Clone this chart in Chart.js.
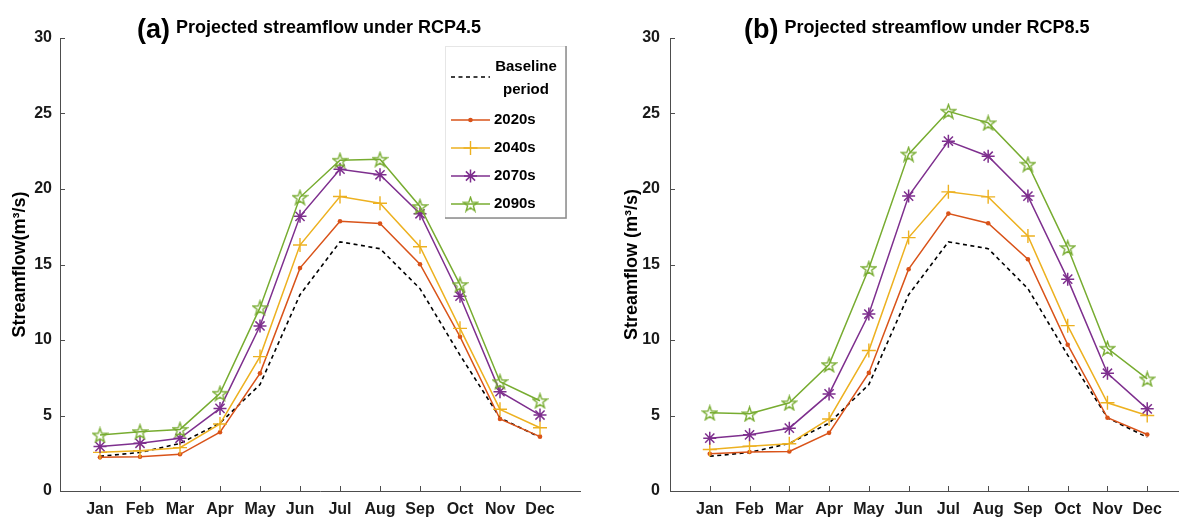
<!DOCTYPE html>
<html>
<head>
<meta charset="utf-8">
<script src="https://cdn.jsdelivr.net/npm/chart.js@4.4.1/dist/chart.umd.min.js"></script>
<style>
  html, body { margin: 0; padding: 0; background: #fff; overflow: hidden; }
  .panel { position: absolute; top: 0; width: 600px; height: 519px; }
  #panelA { left: 0; }
  #panelB { left: 600px; }
</style>
</head>
<body>
<div class="panel" id="panelA"><canvas id="chartA"></canvas></div>
<div class="panel" id="panelB"><canvas id="chartB"></canvas></div>
<script>
// months on the x axis (placed at 1..12)
const months = ["Jan", "Feb", "Mar", "Apr", "May", "Jun", "Jul", "Aug", "Sep", "Oct", "Nov", "Dec"];
const seriesNames = ["Baseline period", "2020s", "2040s", "2070s", "2090s"];

// streamflow, m3/s
const baseline    = [2.3, 2.55, 3.15, 4.5, 7.05, 13.0, 16.5, 16.05, 13.4, 9.0, 4.85, 3.55];
const rcp45_2020s = [2.23, 2.27, 2.43, 3.89, 7.79, 14.76, 17.86, 17.71, 15.02, 10.22, 4.77, 3.6];
const rcp45_2040s = [2.56, 2.67, 2.87, 4.44, 8.9, 16.29, 19.5, 19.06, 16.18, 10.77, 5.41, 4.19];
const rcp45_2070s = [2.94, 3.16, 3.49, 5.47, 10.93, 18.19, 21.31, 20.94, 18.36, 12.9, 6.58, 5.03];
const rcp45_2090s = [3.71, 3.93, 4.08, 6.47, 12.14, 19.45, 21.9, 21.97, 18.84, 13.67, 7.24, 5.98];
const rcp85_2020s = [2.47, 2.58, 2.62, 3.85, 7.82, 14.69, 18.37, 17.73, 15.35, 9.69, 4.85, 3.74];
const rcp85_2040s = [2.75, 2.97, 3.13, 4.77, 9.3, 16.78, 19.81, 19.48, 16.89, 10.95, 5.84, 5.0];
const rcp85_2070s = [3.5, 3.72, 4.16, 6.43, 11.72, 19.53, 23.17, 22.17, 19.53, 14.03, 7.8, 5.44];
const rcp85_2090s = [5.18, 5.11, 5.84, 8.37, 14.74, 22.31, 25.15, 24.38, 21.64, 16.12, 9.45, 7.42];

const FONT = '"Liberation Sans", Arial, sans-serif';
Chart.defaults.font.family = FONT;
Chart.defaults.color = "#1a1a1a";
const AXIS = "#4d4d4d";

// hollow pentagram marker (matlab 'p')
function pentagram(color, size) {
  const c = document.createElement("canvas");
  c.width = size; c.height = size;
  const g = c.getContext("2d");
  const cx = size / 2, cy = size / 2 + 0.8, r = size / 2 - 1, ri = r * 0.40;
  g.beginPath();
  for (let i = 0; i < 10; i++) {
    const a = -Math.PI / 2 + i * Math.PI / 5;
    const rr = i % 2 ? ri : r;
    const px = cx + rr * Math.cos(a), py = cy + rr * Math.sin(a);
    if (i === 0) g.moveTo(px, py); else g.lineTo(px, py);
  }
  g.closePath();
  g.strokeStyle = color;
  g.lineWidth = 1.4;
  g.stroke();
  return c;
}

const styles = [
  { borderColor: "#000000", borderDash: [4, 3.5], borderWidth: 1.6, pointRadius: 0 },
  { borderColor: "#D95319", backgroundColor: "#D95319", pointStyle: "circle", pointRadius: 2.3, pointBorderWidth: 0 },
  { borderColor: "#EDB120", backgroundColor: "#EDB120", pointStyle: "cross", pointRadius: 7, pointBorderWidth: 1.4 },
  { borderColor: "#7E2F8E", backgroundColor: "#7E2F8E", pointStyle: "star", pointRadius: 6.5, pointBorderWidth: 1.5 },
  { borderColor: "#77AC30", backgroundColor: "#77AC30", pointStyle: pentagram("#77AC30", 17), pointRadius: 8, pointBorderWidth: 1.4 }
];

function makeDatasets(seriesList) {
  return seriesList.map((vals, i) => Object.assign({
    label: seriesNames[i],
    data: vals.map((v, k) => ({ x: k + 1, y: v })),
    borderWidth: 1.5,
    tension: 0,
    order: seriesList.length - 1 - i
  }, styles[i]));
}

// inward tick marks like matlab
const inwardTicks = {
  id: "inwardTicks",
  afterDraw(chart) {
    const ctx = chart.ctx, xs = chart.scales.x, ys = chart.scales.y;
    ctx.save();
    ctx.strokeStyle = AXIS;
    ctx.lineWidth = 1;
    ctx.beginPath();
    xs.ticks.forEach(t => {
      if (t.value < 1 || t.value > 12) return;
      const px = Math.round(xs.getPixelForValue(t.value)) + 0.5;
      ctx.moveTo(px, ys.bottom);
      ctx.lineTo(px, ys.bottom - 5);
    });
    ys.ticks.forEach(t => {
      const py = Math.round(ys.getPixelForValue(t.value)) + 0.5;
      ctx.moveTo(xs.left, py);
      ctx.lineTo(xs.left + 5, py);
    });
    ctx.stroke();
    ctx.restore();
  }
};

// "(a) Projected ..." title with two font sizes
const panelTitle = {
  id: "panelTitle",
  afterDraw(chart, args, opts) {
    const ctx = chart.ctx;
    const x = chart.chartArea.left + opts.offset;
    ctx.save();
    ctx.fillStyle = "#000";
    ctx.textBaseline = "alphabetic";
    ctx.font = "bold 27px " + FONT;
    ctx.fillText(opts.tag, x, 38);
    const w = ctx.measureText(opts.tag).width;
    ctx.font = "bold 18px " + FONT;
    ctx.fillText(opts.text, x + w + 6, 33);
    ctx.restore();
  }
};

// boxed legend inside the plot (left panel only)
const boxLegend = {
  id: "boxLegend",
  afterDraw(chart, args, opts) {
    if (!opts.show) return;
    const ctx = chart.ctx;
    const b = opts.box;
    ctx.save();
    ctx.fillStyle = "#fff";
    ctx.fillRect(b.left, b.top, b.right - b.left, b.bottom - b.top);
    ctx.strokeStyle = "#e6e6e6";
    ctx.lineWidth = 1;
    ctx.strokeRect(b.left + 0.5, b.top + 0.5, b.right - b.left, b.bottom - b.top);
    ctx.strokeStyle = "#8c8c8c";
    ctx.lineWidth = 1.5;
    ctx.beginPath();
    ctx.moveTo(b.right, b.top);
    ctx.lineTo(b.right, b.bottom);
    ctx.lineTo(b.left, b.bottom);
    ctx.stroke();

    ctx.font = "bold 15px " + FONT;
    ctx.fillStyle = "#000";
    ctx.textBaseline = "middle";
    chart.data.datasets.forEach((ds, i) => {
      const row = opts.rows[i];
      // sample line
      ctx.save();
      ctx.strokeStyle = ds.borderColor;
      ctx.lineWidth = ds.borderWidth;
      ctx.setLineDash(ds.borderDash || []);
      ctx.beginPath();
      ctx.moveTo(opts.lineX0, row.line);
      ctx.lineTo(opts.lineX1, row.line);
      ctx.stroke();
      ctx.restore();
      if (ds.pointRadius > 0) {
        ctx.save();
        ctx.strokeStyle = ds.borderColor;
        ctx.fillStyle = ds.backgroundColor;
        ctx.lineWidth = ds.pointBorderWidth || 1;
        Chart.helpers.drawPoint(ctx, { pointStyle: ds.pointStyle, radius: ds.pointRadius, rotation: 0, borderWidth: ds.pointBorderWidth }, (opts.lineX0 + opts.lineX1) / 2, row.line);
        ctx.restore();
      }
      const words = ds.label.split(" ");
      if (words.length > 1) {
        ctx.textAlign = "center";
        words.forEach((wd, k) => ctx.fillText(wd, opts.centerX, row.text[k]));
      } else {
        ctx.textAlign = "left";
        ctx.fillText(ds.label, opts.textX, row.text[0]);
      }
    });
    ctx.restore();
  }
};

function makeChart(canvasId, seriesList, cfg) {
  return new Chart(document.getElementById(canvasId), {
    type: "line",
    data: { datasets: makeDatasets(seriesList) },
    options: {
      responsive: true,
      maintainAspectRatio: false,
      animation: false,
      devicePixelRatio: 1,
      layout: { padding: { top: 38, right: cfg.padRight, left: 0, bottom: 0 } },
      scales: {
        x: {
          type: "linear",
          min: 0,
          max: 13,
          grid: { display: false, drawTicks: false },
          border: { display: true, color: AXIS, width: 1 },
          ticks: {
            stepSize: 1,
            autoSkip: false,
            maxRotation: 0,
            padding: 9,
            font: { size: 16, weight: "bold" },
            callback: v => months[v - 1] || ""
          },
          afterFit: s => { s.height = 28; }
        },
        y: {
          min: 0,
          max: 30,
          grid: { display: false, drawTicks: false },
          border: { display: true, color: AXIS, width: 1 },
          ticks: { stepSize: 5, padding: cfg.tickPad, font: { size: 16, weight: "bold" } },
          title: {
            display: true,
            text: cfg.yTitle,
            color: "#000",
            font: { size: 18, weight: "bold" },
            padding: { top: cfg.titlePad, bottom: 0 }
          },
          afterFit: s => { s.width = cfg.yWidth; }
        }
      },
      plugins: {
        legend: { display: false },
        tooltip: { enabled: false },
        panelTitle: { tag: cfg.tag, text: cfg.title, offset: cfg.titleOffset },
        boxLegend: {
          show: cfg.legend,
          box: { left: 445, top: 46, right: 566, bottom: 218 },
          lineX0: 451, lineX1: 490, textX: 494, centerX: 526,
          rows: [
            { line: 77, text: [67, 90] },
            { line: 120, text: [120] },
            { line: 148, text: [148] },
            { line: 176, text: [176] },
            { line: 204, text: [204] }
          ]
        }
      }
    },
    plugins: [inwardTicks, panelTitle, boxLegend]
  });
}

makeChart("chartA", [baseline, rcp45_2020s, rcp45_2040s, rcp45_2070s, rcp45_2090s], {
  tag: "(a)", title: "Projected streamflow under RCP4.5", titleOffset: 77,
  yTitle: "Streamflow(m³/s)", yWidth: 60, tickPad: 8, titlePad: 9, padRight: 20, legend: true
});
makeChart("chartB", [baseline, rcp85_2020s, rcp85_2040s, rcp85_2070s, rcp85_2090s], {
  tag: "(b)", title: "Projected streamflow under RCP8.5", titleOffset: 74,
  yTitle: "Streamflow (m³/s)", yWidth: 70, tickPad: 10, titlePad: 21, padRight: 13, legend: false
});
</script>
</body>
</html>
